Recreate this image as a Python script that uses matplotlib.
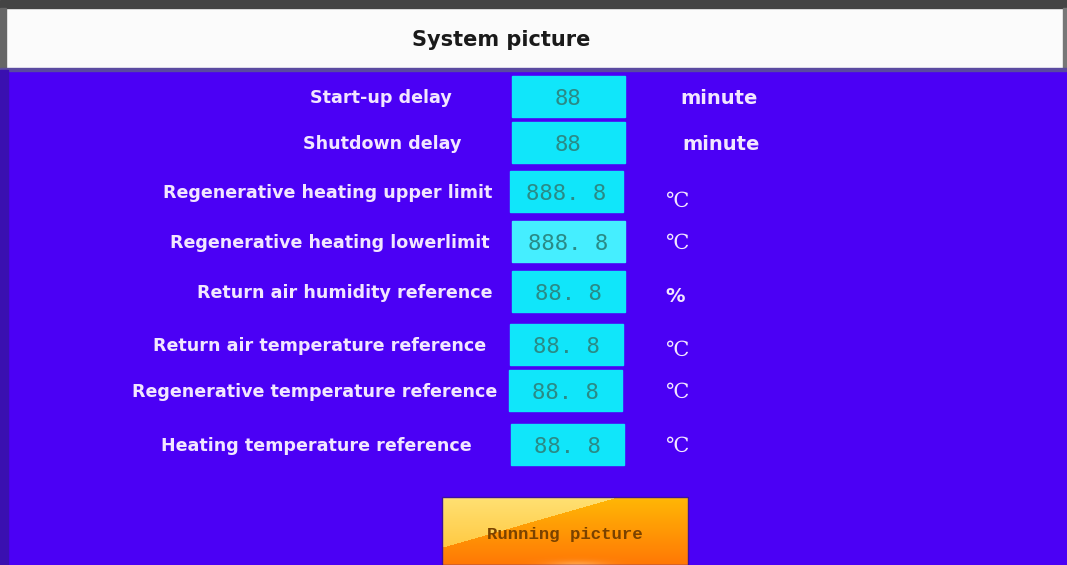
import numpy as np
import matplotlib.pyplot as plt
from matplotlib.patches import Rectangle

# Параметры экрана
labels = ['Start-up delay', 'Shutdown delay', 'Regenerative heating upper limit',
          'Regenerative heating lowerlimit', 'Return air humidity reference',
          'Return air temperature reference', 'Regenerative temperature reference',
          'Heating temperature reference']
values = ['88', '88', '888. 8', '888. 8', '88. 8', '88. 8', '88. 8', '88. 8']
units = ['minute', 'minute', '℃', '℃', '%', '℃', '℃', '℃']

# Раскладка (пиксели)
row_y = [98, 144, 193, 243, 293, 346, 392, 446]
label_x = [310, 303, 163, 170, 197, 153, 132, 161]
box_x = [512, 512, 510, 512, 512, 510, 509, 511]
unit_x = [680, 682, 665, 665, 665, 665, 665, 665]
unit_dy = [0, 0, 8, 0, 4, 4, 0, 0]

W, H = 1067, 565
BLUE = '#4b00f5'
TXT = '#f2e6ff'

fig = plt.figure(figsize=(W / 100, H / 100), dpi=100)
ax = fig.add_axes([0, 0, 1, 1])
ax.set_xlim(0, W)
ax.set_ylim(H, 0)
ax.axis('off')

# фон
ax.add_patch(Rectangle((0, 0), W, H, color=BLUE, zorder=0))
ax.add_patch(Rectangle((0, 0), W, 70, color='#fbfbfb', zorder=1))
ax.add_patch(Rectangle((0, 0), W, 8, color='#444444', zorder=2))
ax.add_patch(Rectangle((0, 8), 6, 62, color='#666666', zorder=2))
ax.add_patch(Rectangle((W - 4, 8), 4, 62, color='#777777', zorder=2))
ax.add_patch(Rectangle((0, 68), W, 3, color='#5a4aa0', zorder=2))
ax.add_patch(Rectangle((0, 70), 8, H - 70, color='#3a10b0', zorder=2))

ax.text(501, 40, 'System picture', ha='center', va='center', fontsize=15,
        fontweight='bold', family='DejaVu Sans', color='#1a1a1a', zorder=3)

for i in range(len(labels)):
    y = row_y[i]
    ax.text(label_x[i], y, labels[i], ha='left', va='center', fontsize=12.6,
            fontweight='bold', family='DejaVu Sans', color=TXT, zorder=3)
    fc = '#45eeff' if i == 3 else '#10e6fa'
    ax.add_patch(Rectangle((box_x[i], y - 22), 113, 41, color=fc, zorder=3))
    ax.text(box_x[i] + 56, y + 1, values[i], ha='center', va='center', fontsize=16,
            family='DejaVu Sans Mono', color='#2a8a86', zorder=4)
    if units[i] == 'minute':
        ax.text(unit_x[i], y + 1, units[i], ha='left', va='center', fontsize=14,
                fontweight='bold', family='DejaVu Sans', color=TXT, zorder=3)
    elif units[i] == '%':
        ax.text(unit_x[i], y + unit_dy[i], units[i], ha='left', va='center', fontsize=14,
                fontweight='bold', family='DejaVu Sans', color=TXT, zorder=3)
    else:
        ax.text(unit_x[i], y + unit_dy[i], units[i], ha='left', va='center', fontsize=15,
                family=['DejaVu Serif', 'DejaVu Sans'], color=TXT, zorder=3)

# кнопка с градиентом
bx0, bx1, by0, by1 = 442, 688, 497, 565
nx, ny = 246, 68
xx, yy = np.meshgrid(np.linspace(0, 1, nx), np.linspace(0, 1, ny))
top = np.array([1.0, 0.72, 0.02])
bot = np.array([1.0, 0.47, 0.02])
img = top * (1 - yy[..., None]) + bot * yy[..., None]
light = yy < (0.75 - 1.05 * xx)
ltop = np.array([1.0, 0.88, 0.45])
lbot = np.array([1.0, 0.76, 0.20])
img[light] = (ltop * (1 - yy[..., None]) + lbot * yy[..., None])[light]
# слабое светлое пятно внизу
glow = np.exp(-(((xx - 0.55) / 0.12) ** 2 + ((yy - 1.0) / 0.06) ** 2))
img = img + (np.array([1.0, 0.9, 0.7]) - img) * (0.35 * glow[..., None])
ax.imshow(img, extent=(bx0, bx1, by1, by0), aspect='auto', zorder=3, interpolation='bilinear')
ax.add_patch(Rectangle((bx0, by0), bx1 - bx0, by1 - by0, fill=False, ec='#3a10a0', lw=1, zorder=4))
ax.text(565, 534, 'Running picture', ha='center', va='center', fontsize=12.5,
        fontweight='bold', family='Liberation Mono', color='#7a4200', zorder=5)

ax.set_xlim(0, W)
ax.set_ylim(H, 0)
plt.savefig('out.png', dpi=100)
